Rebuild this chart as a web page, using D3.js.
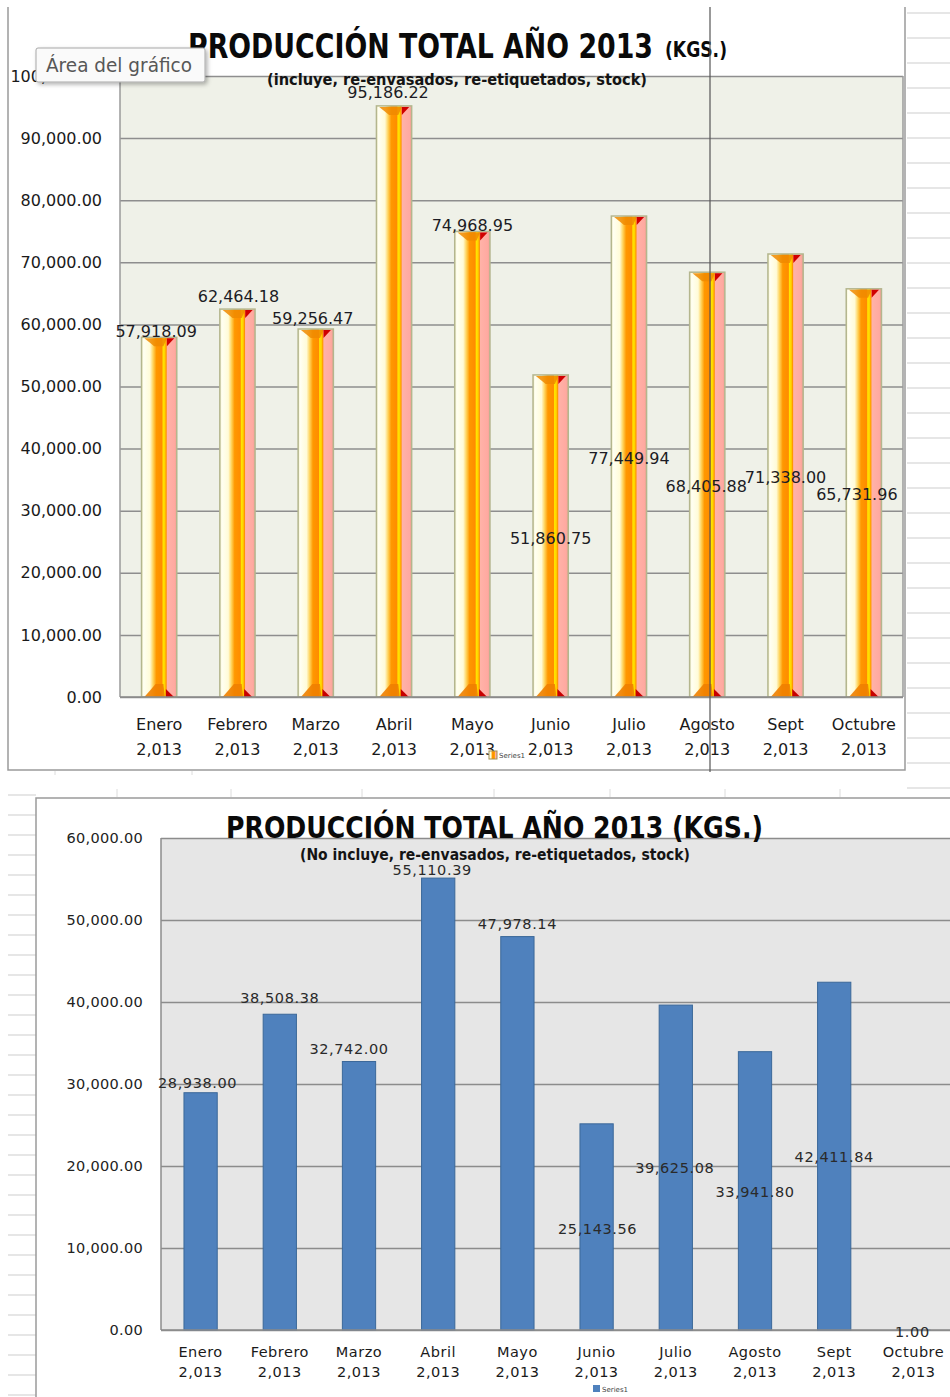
<!DOCTYPE html>
<html>
<head>
<meta charset="utf-8">
<script src="https://cdn.jsdelivr.net/npm/d3@7"></script>
<style>
  body { margin: 0; background: #fff; }
  svg { display: block; }
  text { font-family: "DejaVu Sans", Verdana, sans-serif; }
</style>
</head>
<body>
<svg id="chart" width="950" height="1397"></svg>
<script>
// months shared by both charts
const months = ["Enero", "Febrero", "Marzo", "Abril", "Mayo", "Junio", "Julio", "Agosto", "Sept", "Octubre"];
const yearLabel = "2,013";

// chart 1: includes re-envasados, re-etiquetados, stock
const totalWith = [57918.09, 62464.18, 59256.47, 95186.22, 74968.95, 51860.75, 77449.94, 68405.88, 71338.00, 65731.96];
const ticksWith = [0, 10000, 20000, 30000, 40000, 50000, 60000, 70000, 80000, 90000, 100000];

// chart 2: without them
const totalWithout = [28938.00, 38508.38, 32742.00, 55110.39, 47978.14, 25143.56, 39625.08, 33941.80, 42411.84, 1.00];
const ticksWithout = [0, 10000, 20000, 30000, 40000, 50000, 60000];

// data label nudges (the labels were dragged around in the sheet)
const labelShift1 = [[-3, -6], [1, -13], [-3, -11], [-6, -13], [0, -6], [0, 163], [0, 242], [-1, 214], [0, 223], [-7, 206]];
const labelShift2 = [[-3, -10], [0, -16], [-10, -13], [-6, -8], [0, -13], [1, 105], [-1, 163], [0, 140], [0, 175], [-1, 2]];

const svg = d3.select("#chart");
const fmt = d3.format(",.2f");

// --- spreadsheet background bits ---
let sheet = svg.append("g").attr("class", "sheet");
for (let y = 13; y < 790; y += 25) {
    sheet.append("line").attr("x1", 907).attr("x2", 950).attr("y1", y).attr("y2", y)
        .attr("stroke", "#dedede").attr("stroke-width", 1.5);
}
for (let y = 795; y < 1397; y += 20) {
    sheet.append("line").attr("x1", 8).attr("x2", 36).attr("y1", y).attr("y2", y)
        .attr("stroke", "#dedede").attr("stroke-width", 1.5);
}
[117, 231, 362, 494, 610, 725, 840].forEach(x => {
    sheet.append("line").attr("x1", x).attr("x2", x).attr("y1", 789).attr("y2", 797)
        .attr("stroke", "#dcdcdc");
});
[55, 192].forEach(x => {
    sheet.append("line").attr("x1", x).attr("x2", x).attr("y1", 771).attr("y2", 775)
        .attr("stroke", "#dcdcdc");
});

// --- gradient for the cylinder-ish bars ---
let defs = svg.append("defs");
let grad = defs.append("linearGradient").attr("id", "barGrad");
[[0, "#f4f1c8"], [0.06, "#fffff2"], [0.24, "#fffbd8"], [0.33, "#ffd35a"], [0.42, "#ff9800"],
 [0.58, "#ff8c00"], [0.61, "#ffe400"], [0.66, "#ffd400"], [0.7, "#ff9400"], [0.73, "#ffb2a8"],
 [0.94, "#ffa9a0"], [1, "#eea090"]].forEach(s => {
    grad.append("stop").attr("offset", s[0]).attr("stop-color", s[1]);
});
let shadow = defs.append("filter").attr("id", "tipShadow").attr("x", -0.1).attr("y", -0.2).attr("width", 1.3).attr("height", 1.6);
shadow.append("feDropShadow").attr("dx", 2).attr("dy", 2).attr("stdDeviation", 2).attr("flood-color", "#000").attr("flood-opacity", 0.3);

function drawAxisY(g, y, ticks, x0, x1, fontSize, gridColor) {
    g.append("g")
        .attr("transform", `translate(${x0},0)`)
        .call(d3.axisLeft(y).tickValues(ticks).tickSize(-(x1 - x0)).tickFormat(""))
        .call(a => a.select(".domain").remove())
        .call(a => a.selectAll("line").attr("stroke", gridColor).attr("stroke-width", 1.5));
}

// ================= CHART 1 =================
{
    const x0 = 120, x1 = 903, yTop = 76, yBot = 697;
    let g = svg.append("g");
    // chart area border
    g.append("path").attr("d", "M8,7 V770 H905 V7").attr("fill", "#fff").attr("stroke", "#9a9a9a").attr("stroke-width", 1.5);
    g.append("rect").attr("x", x0).attr("y", yTop).attr("width", x1 - x0).attr("height", yBot - yTop).attr("fill", "#eff1e8");

    let x = d3.scaleBand().domain(months).range([x0, x1]).paddingInner(0.55).paddingOuter(0.275);
    let y = d3.scaleLinear().domain([0, 100000]).range([yBot, yTop]);

    drawAxisY(g, y, ticksWith, x0, x1, 16, "#8e8e8e");
    g.append("line").attr("x1", x0).attr("x2", x0).attr("y1", yTop).attr("y2", yBot).attr("stroke", "#9a9a9a").attr("stroke-width", 1.5);
    g.append("line").attr("x1", x1).attr("x2", x1).attr("y1", yTop).attr("y2", yBot).attr("stroke", "#9a9a9a").attr("stroke-width", 1.5);

    // tick labels
    g.append("g").selectAll("text").data(ticksWith).join("text")
        .attr("x", 102).attr("y", d => y(d)).attr("dy", "0.35em")
        .attr("text-anchor", "end").attr("font-size", 16).attr("fill", "#1a1a1a")
        .text(d => fmt(d));

    // bars
    let bars = g.append("g").selectAll("g").data(totalWith).join("g")
        .attr("transform", (d, i) => `translate(${x(months[i])},0)`);
    const w = x.bandwidth();
    bars.append("rect")
        .attr("y", d => y(d)).attr("width", w).attr("height", d => yBot - y(d))
        .attr("fill", "url(#barGrad)").attr("stroke", "#b4b68e").attr("stroke-width", 1.5);
    bars.append("path")
        .attr("d", d => `M${0.08 * w},${y(d) + 1} L${0.72 * w},${y(d) + 1} L${0.62 * w},${y(d) + 9} L${0.36 * w},${y(d) + 9} Z`)
        .attr("fill", "#f08a00").attr("opacity", 0.85);
    bars.append("path")
        .attr("d", d => `M${0.72 * w},${y(d) + 1} L${0.93 * w},${y(d) + 1} L${0.72 * w},${y(d) + 9} Z`)
        .attr("fill", "#d00000");
    bars.append("path")
        .attr("d", `M${0.08 * w},${yBot} L${0.4 * w},${yBot - 13} L${0.62 * w},${yBot - 13} L${0.66 * w},${yBot} Z`)
        .attr("fill", "#f08000").attr("opacity", 0.9);
    bars.append("path")
        .attr("d", `M${0.69 * w},${yBot - 8} L${0.69 * w},${yBot} L${0.92 * w},${yBot} Z`)
        .attr("fill", "#c80000");

    g.append("line").attr("x1", x0).attr("x2", x1).attr("y1", yBot).attr("y2", yBot).attr("stroke", "#8a8a8a").attr("stroke-width", 1.5);

    // data labels
    g.append("g").selectAll("text").data(totalWith).join("text")
        .attr("x", (d, i) => x(months[i]) + w / 2 + labelShift1[i][0])
        .attr("y", (d, i) => y(d) + labelShift1[i][1]).attr("dy", "0.35em")
        .attr("text-anchor", "middle").attr("font-size", 16).attr("fill", "#1c1c24")
        .text(d => fmt(d));

    // category labels
    let cat = g.append("g").selectAll("text").data(months).join("text")
        .attr("x", d => x(d) + w / 2).attr("text-anchor", "middle").attr("font-size", 16).attr("fill", "#1a1a1a");
    cat.append("tspan").attr("x", d => x(d) + w / 2).attr("y", 730).text(d => d);
    cat.append("tspan").attr("x", d => x(d) + w / 2).attr("y", 755).text(yearLabel);

    // titles
    g.append("text").attr("x", 188).attr("y", 58).attr("font-size", 34).attr("font-weight", "bold")
        .attr("font-family", "'DejaVu Sans Condensed', 'DejaVu Sans', sans-serif").attr("font-stretch", "condensed")
        .attr("textLength", 465).attr("lengthAdjust", "spacingAndGlyphs").attr("fill", "#0a0a0a")
        .text("PRODUCCIÓN TOTAL AÑO 2013");
    g.append("text").attr("x", 665).attr("y", 57).attr("font-size", 22).attr("font-weight", "bold")
        .attr("font-family", "'DejaVu Sans Condensed', 'DejaVu Sans', sans-serif").attr("font-stretch", "condensed")
        .attr("textLength", 62).attr("lengthAdjust", "spacingAndGlyphs").attr("fill", "#0a0a0a")
        .text("(KGS.)");
    g.append("text").attr("x", 267).attr("y", 85).attr("font-size", 16).attr("font-weight", "bold")
        .attr("font-family", "'DejaVu Sans Condensed', 'DejaVu Sans', sans-serif").attr("font-stretch", "condensed")
        .attr("textLength", 380).attr("lengthAdjust", "spacingAndGlyphs").attr("fill", "#141414")
        .text("(incluye, re-envasados,  re-etiquetados, stock)");

    // tiny legend
    g.append("rect").attr("x", 489).attr("y", 751).attr("width", 8).attr("height", 8)
        .attr("fill", "url(#barGrad)").attr("stroke", "#a09050");
    g.append("text").attr("x", 499).attr("y", 758).attr("font-size", 7).attr("fill", "#444").text("Series1");

    // sheet column line crossing the chart
    g.append("line").attr("x1", 710).attr("x2", 710).attr("y1", 7).attr("y2", 772).attr("stroke", "#555").attr("stroke-width", 1.2);

    // "Área del gráfico" hover tip
    g.append("rect").attr("x", 36).attr("y", 48).attr("width", 169).attr("height", 34).attr("rx", 2)
        .attr("fill", "#fafafa").attr("stroke", "#a8a8a8").attr("filter", "url(#tipShadow)");
    g.append("text").attr("x", 46).attr("y", 72).attr("font-size", 19)
        .attr("font-family", "'Open Sans', 'DejaVu Sans', sans-serif")
        .attr("textLength", 146).attr("lengthAdjust", "spacingAndGlyphs").attr("fill", "#575757")
        .text("Área del gráfico");
}

// ================= CHART 2 =================
{
    const x0 = 161, x1 = 953, yTop = 838, yBot = 1330;
    let g = svg.append("g");
    g.append("path").attr("d", "M36,1397 V798 H950").attr("fill", "#fff").attr("stroke", "#9a9a9a").attr("stroke-width", 1.5);
    g.append("rect").attr("x", x0).attr("y", yTop).attr("width", x1 - x0).attr("height", yBot - yTop).attr("fill", "#e6e6e6");

    let x = d3.scaleBand().domain(months).range([x0, x1]).paddingInner(0.58).paddingOuter(0.29);
    let y = d3.scaleLinear().domain([0, 60000]).range([yBot, yTop]);

    drawAxisY(g, y, ticksWithout, x0, x1, 15, "#8c8c8c");
    g.append("line").attr("x1", x0).attr("x2", x0).attr("y1", yTop).attr("y2", yBot).attr("stroke", "#8c8c8c").attr("stroke-width", 1.5);

    g.append("g").selectAll("text").data(ticksWithout).join("text")
        .attr("x", 143).attr("y", d => y(d)).attr("dy", "0.35em")
        .attr("text-anchor", "end").attr("font-size", 14.5).attr("letter-spacing", 0.3).attr("fill", "#222")
        .text(d => fmt(d));

    const w = x.bandwidth();
    g.append("g").selectAll("rect").data(totalWithout).join("rect")
        .attr("x", (d, i) => x(months[i])).attr("y", d => y(d))
        .attr("width", w).attr("height", d => yBot - y(d))
        .attr("fill", "#4f81bd").attr("stroke", "#3b6899").attr("stroke-width", 1);

    g.append("line").attr("x1", x0).attr("x2", x1).attr("y1", yBot).attr("y2", yBot).attr("stroke", "#8c8c8c").attr("stroke-width", 1.5);

    g.append("g").selectAll("text").data(totalWithout).join("text")
        .attr("x", (d, i) => x(months[i]) + w / 2 + labelShift2[i][0])
        .attr("y", (d, i) => y(d) + labelShift2[i][1]).attr("dy", "0.35em")
        .attr("text-anchor", "middle").attr("font-size", 14.5).attr("letter-spacing", 0.6).attr("fill", "#2a2a2a")
        .text(d => fmt(d));

    let cat = g.append("g").selectAll("text").data(months).join("text")
        .attr("text-anchor", "middle").attr("font-size", 14.5).attr("letter-spacing", 0.5).attr("fill", "#1a1a1a");
    cat.append("tspan").attr("x", d => x(d) + w / 2).attr("y", 1357).text(d => d);
    cat.append("tspan").attr("x", d => x(d) + w / 2).attr("y", 1377).text(yearLabel);

    g.append("text").attr("x", 226).attr("y", 838).attr("font-size", 31).attr("font-weight", "bold")
        .attr("font-family", "'DejaVu Sans Condensed', 'DejaVu Sans', sans-serif").attr("font-stretch", "condensed")
        .attr("textLength", 537).attr("lengthAdjust", "spacingAndGlyphs").attr("fill", "#0a0a0a")
        .text("PRODUCCIÓN TOTAL AÑO 2013 (KGS.)");
    g.append("text").attr("x", 300).attr("y", 860).attr("font-size", 15).attr("font-weight", "bold")
        .attr("font-family", "'DejaVu Sans Condensed', 'DejaVu Sans', sans-serif").attr("font-stretch", "condensed")
        .attr("textLength", 390).attr("lengthAdjust", "spacingAndGlyphs").attr("fill", "#141414")
        .text("(No  incluye, re-envasados,  re-etiquetados, stock)");

    g.append("rect").attr("x", 593).attr("y", 1385).attr("width", 7).attr("height", 7).attr("fill", "#4f81bd");
    g.append("text").attr("x", 602).attr("y", 1392).attr("font-size", 7).attr("fill", "#444").text("Series1");
}
</script>
</body>
</html>
